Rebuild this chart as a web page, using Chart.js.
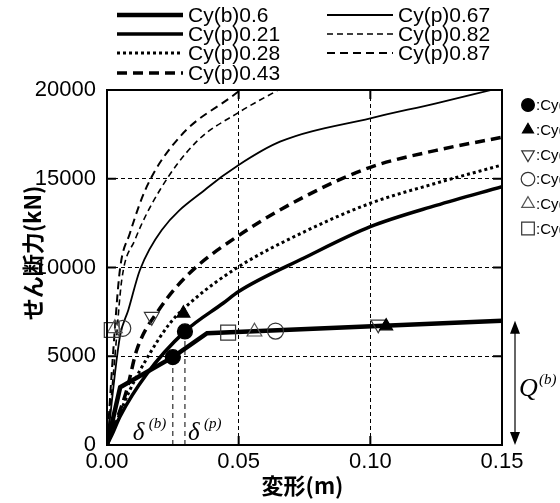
<!DOCTYPE html>
<html><head><meta charset="utf-8">
<script src="https://cdn.jsdelivr.net/npm/chart.js@4"></script>
<style>html,body{margin:0;padding:0;background:#fff}canvas{display:block}</style>
</head><body>
<canvas id="c" width="560" height="503"></canvas>
<script>
// ---- data ----
const xTickValues = [0, 0.05, 0.10, 0.15];
const yTickValues = [0, 5000, 10000, 15000, 20000];
const xAxisTitle = '変形(m)';
const yAxisTitle = 'せん断力(kN)';

const seriesNames = ['Cy(b)0.6','Cy(p)0.21','Cy(p)0.28','Cy(p)0.43','Cy(p)0.67','Cy(p)0.82','Cy(p)0.87'];
const xB06  = [0, 0.005, 0.025, 0.038, 0.15];
const yB06  = [0, 3250, 4950, 6300, 7000];
const xP021 = [0, 0.0024, 0.0049, 0.0151, 0.0296, 0.0442, 0.05, 0.075, 0.10, 0.125, 0.15];
const yP021 = [0, 750, 1594, 4000, 6400, 8000, 8650, 10550, 12299, 13500, 14553];
const xP028 = [0, 0.0087, 0.0163, 0.0239, 0.0328, 0.05, 0.075, 0.10, 0.125, 0.15];
const yP028 = [0, 3099, 5166, 6857, 8169, 10045, 12017, 13618, 14750, 15775];
const xP043 = [0, 0.0075, 0.0113, 0.0201, 0.0315, 0.05, 0.075, 0.10, 0.125, 0.15];
const yP043 = [0, 3099, 5352, 7700, 9700, 11800, 13989, 15646, 16600, 17336];
const xP067 = [0, 0.0049, 0.0081, 0.0125, 0.0208, 0.0379, 0.05, 0.0657, 0.10, 0.125, 0.146];
const yP067 = [0, 6102, 7606, 9860, 12113, 14463, 15775, 17088, 18406, 19250, 20000];
const xP082 = [0, 0.003, 0.0056, 0.0106, 0.0201, 0.034, 0.0505, 0.065];
const yP082 = [0, 4975, 9296, 11550, 14367, 17088, 18778, 20000];
const xP087 = [0, 0.0024, 0.0049, 0.0087, 0.0151, 0.0277, 0.049, 0.0505];
const yP087 = [0, 5352, 9860, 11927, 14553, 17370, 19815, 20000];

// yield-point markers (one on each Cy(p) curve, one on the Cy(b) curve)
const markerNames = ['Cy(p)0.21','Cy(p)0.28','Cy(p)0.43','Cy(p)0.67','Cy(p)0.82','Cy(p)0.87'];
const mkFilledCircleX = [0.025, 0.0296];  const mkFilledCircleY = [4950, 6400];
const mkFilledTriX    = [0.029, 0.106];   const mkFilledTriY    = [7420, 6700];
const mkOpenTriDownX  = [0.017, 0.103];   const mkOpenTriDownY  = [7228, 6800];
const mkOpenCircleX   = [0.006, 0.064];   const mkOpenCircleY   = [6575, 6420];
const mkOpenTriX      = [0.003, 0.056];   const mkOpenTriY      = [6575, 6380];
const mkSquareX       = [0.0018, 0.046];  const mkSquareY       = [6480, 6330];

// delta guide lines
const deltaBX = [0.025, 0.025];   const deltaBY = [0, 4950];
const deltaPX = [0.0296, 0.0296]; const deltaPY = [0, 6400];

// ---- build ----
const pts = (xs, ys) => xs.map((x, i) => ({x, y: ys[i]}));
const lineStyles = [
  {w: 4.5, dash: [], smooth: false},
  {w: 3.5, dash: [], smooth: true},
  {w: 3,   dash: [3, 3], smooth: true},
  {w: 3.5, dash: [10, 6], smooth: true},
  {w: 1.8, dash: [], smooth: true},
  {w: 1.6, dash: [6, 4], smooth: true},
  {w: 2,   dash: [8, 5], smooth: true}
];
const seriesX = [xB06, xP021, xP028, xP043, xP067, xP082, xP087];
const seriesY = [yB06, yP021, yP028, yP043, yP067, yP082, yP087];

const markerDefs = [
  {x: mkFilledCircleX, y: mkFilledCircleY, style: 'circle',   r: 7.5, rot: 0,   fill: '#000', stroke: '#000'},
  {x: mkFilledTriX,    y: mkFilledTriY,    style: 'triangle', r: 7.5, rot: 0,   fill: '#000', stroke: '#000'},
  {x: mkOpenTriDownX,  y: mkOpenTriDownY,  style: 'triangle', r: 8.5, rot: 180, fill: 'rgba(0,0,0,0)', stroke: '#333'},
  {x: mkOpenCircleX,   y: mkOpenCircleY,   style: 'circle',   r: 8,   rot: 0,   fill: 'rgba(0,0,0,0)', stroke: '#333'},
  {x: mkOpenTriX,      y: mkOpenTriY,      style: 'triangle', r: 8.5, rot: 0,   fill: 'rgba(0,0,0,0)', stroke: '#555'},
  {x: mkSquareX,       y: mkSquareY,       style: 'rect',     r: 10.5, rot: 0,  fill: 'rgba(0,0,0,0)', stroke: '#333'}
];

const datasets = [];
markerDefs.forEach((m, i) => datasets.push({
  type: 'scatter', label: markerNames[i], data: pts(m.x, m.y), showLine: false,
  pointStyle: m.style, pointRadius: m.r, pointRotation: m.rot,
  pointBackgroundColor: m.fill, pointBorderColor: m.stroke, pointBorderWidth: 1.2,
  clip: false
}));
seriesNames.forEach((n, i) => datasets.push({
  type: 'line', label: n, data: pts(seriesX[i], seriesY[i]),
  borderColor: '#000', borderWidth: lineStyles[i].w, borderDash: lineStyles[i].dash,
  pointRadius: 0, fill: false, tension: 0,
  cubicInterpolationMode: lineStyles[i].smooth ? 'monotone' : 'default'
}));
[[deltaBX, deltaBY], [deltaPX, deltaPY]].forEach(([xs, ys]) => datasets.push({
  type: 'line', label: 'delta', data: pts(xs, ys), borderColor: '#000', borderWidth: 1,
  borderDash: [5, 4], pointRadius: 0, fill: false
}));

const L = 107, R = 502, T = 90, B = 445, W = 560, H = 503;

function drawMarkerSymbol(ctx, m, x, y) {
  ctx.save();
  ctx.lineWidth = 1.2; ctx.strokeStyle = m.stroke; ctx.fillStyle = m.fill;
  ctx.beginPath();
  const r = m.r * 0.85;
  if (m.style === 'circle') ctx.arc(x, y, r, 0, Math.PI * 2);
  else if (m.style === 'rect') { const s = r * Math.SQRT1_2; ctx.rect(x - s, y - s, 2 * s, 2 * s); }
  else {
    const sgn = m.rot === 180 ? -1 : 1;
    const hw = r * Math.sqrt(3) / 2;
    ctx.moveTo(x, y - sgn * r);
    ctx.lineTo(x - hw, y + sgn * r / 2);
    ctx.lineTo(x + hw, y + sgn * r / 2);
    ctx.closePath();
  }
  ctx.fill(); ctx.stroke();
  ctx.restore();
}

const decor = {
  id: 'decor',
  afterDraw(chart) {
    const ctx = chart.ctx, a = chart.chartArea;
    const xs = chart.scales.x, ys = chart.scales.y;
    ctx.save();
    // frame
    ctx.strokeStyle = '#000'; ctx.lineWidth = 2; ctx.setLineDash([]);
    ctx.strokeRect(a.left, a.top, a.right - a.left, a.bottom - a.top);
    // inner ticks
    ctx.beginPath();
    xTickValues.forEach(v => { const p = xs.getPixelForValue(v);
      ctx.moveTo(p, a.bottom); ctx.lineTo(p, a.bottom - 9);
      ctx.moveTo(p, a.top); ctx.lineTo(p, a.top + 9); });
    yTickValues.forEach(v => { const p = ys.getPixelForValue(v);
      ctx.moveTo(a.left, p); ctx.lineTo(a.left + 9, p);
      ctx.moveTo(a.right, p); ctx.lineTo(a.right - 9, p); });
    ctx.stroke();

    // axis titles
    ctx.fillStyle = '#000';
    ctx.font = 'bold 22px "Noto Sans CJK JP"';
    ctx.textAlign = 'center'; ctx.textBaseline = 'middle';
    ctx.fillText(xAxisTitle, (a.left + a.right) / 2 - 2, 486);
    ctx.save(); ctx.translate(33, 253); ctx.rotate(-Math.PI / 2);
    ctx.fillText(yAxisTitle, 0, 0); ctx.restore();

    // top legend
    const legPos = [[117, 15], [117, 34], [117, 53], [117, 73], [327, 15], [327, 34], [327, 53]];
    ctx.font = '21px "Liberation Sans"'; ctx.textAlign = 'left'; ctx.textBaseline = 'middle';
    seriesNames.forEach((n, i) => {
      const [lx, ly] = legPos[i];
      ctx.beginPath(); ctx.lineWidth = lineStyles[i].w; ctx.setLineDash(lineStyles[i].dash);
      ctx.moveTo(lx, ly); ctx.lineTo(lx + 66, ly); ctx.stroke();
      ctx.setLineDash([]);
      ctx.fillText(n, lx + 71, ly + 1);
    });

    // marker legend (right)
    ctx.font = '15px "Liberation Sans"';
    markerDefs.forEach((m, i) => {
      const y = 105 + i * 24.7;
      drawMarkerSymbol(ctx, m, 528, y);
      ctx.fillStyle = '#000';
      ctx.fillText(':' + markerNames[i], 536, y + 1);
    });

    // delta labels
    const serif = 'italic 25px "Liberation Serif"';
    const sup = 'italic 15px "Liberation Serif"';
    const pb = xs.getPixelForValue(deltaBX[0]), pp = xs.getPixelForValue(deltaPX[0]);
    ctx.textBaseline = 'alphabetic'; ctx.textAlign = 'left';
    ctx.font = serif; ctx.fillText('δ', pb - 40, a.bottom - 5);
    ctx.font = sup; ctx.fillText('(b)', pb - 24, a.bottom - 17);
    ctx.font = serif; ctx.fillText('δ', pp + 3, a.bottom - 5);
    ctx.font = sup; ctx.fillText('(p)', pp + 19, a.bottom - 17);

    // Q(b) double arrow
    const ax = 515, yTop = ys.getPixelForValue(yB06[yB06.length - 1]), yBot = ys.getPixelForValue(0);
    ctx.strokeStyle = '#333'; ctx.fillStyle = '#000'; ctx.lineWidth = 1.5;
    ctx.beginPath(); ctx.moveTo(ax, yTop + 10); ctx.lineTo(ax, yBot - 10); ctx.stroke();
    ctx.beginPath(); ctx.moveTo(ax, yTop); ctx.lineTo(ax - 5, yTop + 13); ctx.lineTo(ax + 5, yTop + 13); ctx.closePath(); ctx.fill();
    ctx.beginPath(); ctx.moveTo(ax, yBot); ctx.lineTo(ax - 5, yBot - 13); ctx.lineTo(ax + 5, yBot - 13); ctx.closePath(); ctx.fill();
    ctx.font = 'italic 26px "Liberation Serif"'; ctx.fillText('Q', 519, 396);
    ctx.font = 'italic 15px "Liberation Serif"'; ctx.fillText('(b)', 539, 384);
    ctx.restore();
  }
};

new Chart(document.getElementById('c'), {
  type: 'line',
  data: {datasets},
  options: {
    responsive: false, animation: false, devicePixelRatio: 1,
    layout: {padding: {top: T, right: W - R, left: 0, bottom: 0}},
    plugins: {legend: {display: false}, tooltip: {enabled: false}},
    scales: {
      x: {
        type: 'linear', min: 0, max: 0.15,
        afterBuildTicks: s => { s.ticks = xTickValues.map(v => ({value: v})); },
        afterFit: s => { s.height = H - B; },
        ticks: {color: '#000', font: {family: 'Liberation Sans', size: 22}, padding: 4,
                maxRotation: 0, callback: v => Number(v).toFixed(2)},
        grid: {color: '#000', lineWidth: 1, drawTicks: false},
        border: {display: false, dash: [4, 3]}
      },
      y: {
        type: 'linear', min: 0, max: 20000,
        afterBuildTicks: s => { s.ticks = yTickValues.map(v => ({value: v})); },
        afterFit: s => { s.width = L; },
        ticks: {color: '#000', font: {family: 'Liberation Sans', size: 22}, padding: 11,
                callback: v => String(v)},
        grid: {color: '#000', lineWidth: 1, drawTicks: false},
        border: {display: false, dash: [4, 3]}
      }
    }
  },
  plugins: [decor]
});
</script>
</body></html>
